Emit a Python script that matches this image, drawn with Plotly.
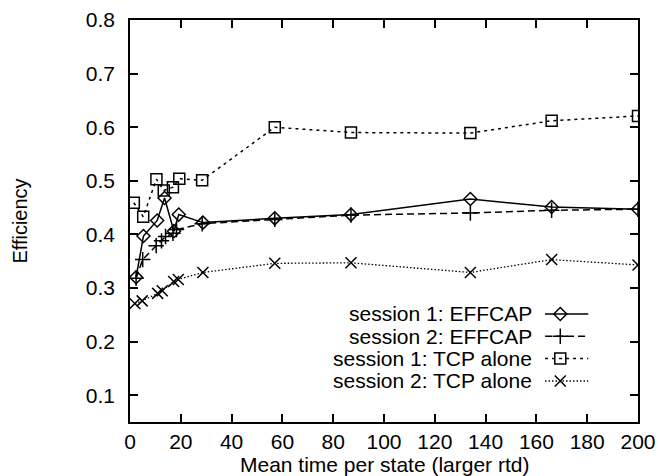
import plotly.graph_objects as go

# ---- data ----
s1_eff_x = [2.4, 5.3, 10.7, 13.6, 17.3, 19.2, 28.7, 57, 87, 134, 166, 200]
s1_eff_y = [0.320, 0.397, 0.426, 0.468, 0.406, 0.437, 0.422, 0.430, 0.437, 0.466, 0.451, 0.447]

s2_eff_x = [2.4, 5.0, 10.3, 12.4, 14.0, 16.9, 18.3, 28.4, 57, 87, 134, 166, 200]
s2_eff_y = [0.318, 0.353, 0.379, 0.388, 0.396, 0.402, 0.409, 0.420, 0.428, 0.436, 0.440, 0.445, 0.447]

s1_tcp_x = [1.5, 5.2, 10.4, 13.3, 16.9, 19.4, 28.4, 57, 87, 134, 166, 200]
s1_tcp_y = [0.459, 0.433, 0.503, 0.482, 0.488, 0.504, 0.501, 0.600, 0.590, 0.589, 0.612, 0.621]

s2_tcp_x = [1.9, 4.8, 10.9, 12.7, 17.2, 19.0, 28.7, 57, 87, 134, 166, 200]
s2_tcp_y = [0.271, 0.276, 0.290, 0.295, 0.312, 0.316, 0.329, 0.346, 0.347, 0.329, 0.353, 0.343]

names = ["session 1: EFFCAP", "session 2: EFFCAP", "session 1: TCP alone", "session 2: TCP alone"]

x_ticks = [0, 20, 40, 60, 80, 100, 120, 140, 160, 180, 200]
y_ticks = [0.1, 0.2, 0.3, 0.4, 0.5, 0.6, 0.7, 0.8]

x_title = "Mean time per state (larger rtd)"
y_title = "Efficiency"

FONT = "Liberation Sans, Arial, Helvetica, sans-serif"

series = [
    (s1_eff_x, s1_eff_y, dict(dash="solid", width=1.5), dict(symbol="diamond-open", size=10)),
    (s2_eff_x, s2_eff_y, dict(dash="7px,4px", width=1.5), dict(symbol="cross-thin", size=11)),
    (s1_tcp_x, s1_tcp_y, dict(dash="3px,4px", width=1.5), dict(symbol="square-open", size=11)),
    (s2_tcp_x, s2_tcp_y, dict(dash="1.5px,2px", width=1.3), dict(symbol="x-thin", size=11)),
]

# legend layout (paper fractions of the plot area), gnuplot style: text right, key sample after
LEG_TEXT_X = 0.795
LEG_KEY_X0, LEG_KEY_X1 = 0.817, 0.902
LEG_MARK_X = 0.847
LEG_ROWS_Y = [0.2687, 0.2132, 0.1577, 0.102]

fig = go.Figure()
for (xs, ys, ln, mk), nm, ry in zip(series, names, LEG_ROWS_Y):
    line = dict(color="black", **ln)
    marker = dict(color="black", line=dict(width=1.5, color="black"), **mk)
    fig.add_trace(go.Scatter(x=xs, y=ys, name=nm, mode="lines+markers",
                             line=line, marker=marker, showlegend=False))
    # legend key sample on an overlay axis
    fig.add_trace(go.Scatter(x=[LEG_KEY_X0, LEG_KEY_X1], y=[ry, ry], mode="lines",
                             line=line, xaxis="x2", yaxis="y2", showlegend=False, hoverinfo="skip"))
    fig.add_trace(go.Scatter(x=[LEG_MARK_X], y=[ry], mode="markers",
                             marker=marker, xaxis="x2", yaxis="y2", showlegend=False, hoverinfo="skip"))
    fig.add_annotation(text=nm, xref="paper", yref="paper", x=LEG_TEXT_X, y=ry,
                       xanchor="right", yanchor="middle", showarrow=False,
                       font=dict(family=FONT, size=21, color="black"))

# x-axis title placed as an annotation
fig.add_annotation(text=x_title, xref="paper", yref="paper", x=0.5, y=-0.1045,
                   xanchor="center", yanchor="middle", showarrow=False,
                   font=dict(family=FONT, size=21, color="black"))

axis_common = dict(
    showgrid=False, zeroline=False, showline=True, linecolor="black", linewidth=1.5,
    mirror="ticks", ticks="inside", ticklen=8, tickwidth=1.5, tickcolor="black",
    tickfont=dict(family=FONT, size=21, color="black"), automargin=False,
)

fig.update_layout(
    template="none",
    width=659, height=476,
    margin=dict(l=130, r=21, t=20, b=54, pad=0),
    paper_bgcolor="white", plot_bgcolor="white",
    font=dict(family=FONT, size=17, color="black"),
    xaxis=dict(range=[0, 200], tickvals=x_ticks, ticklabelstandoff=0, **axis_common),
    yaxis=dict(range=[0.05, 0.8], tickvals=y_ticks, tickformat=".1f", ticklabelstandoff=9,
               title=dict(text=y_title, font=dict(family=FONT, size=20), standoff=53),
               **axis_common),
    xaxis2=dict(range=[0, 1], overlaying="x", visible=False, fixedrange=True),
    yaxis2=dict(range=[0, 1], overlaying="y", visible=False, fixedrange=True),
    showlegend=False,
)

fig.write_html("out.html", config={"displayModeBar": False},
               post_script="document.body.style.margin='0';document.body.style.overflow='hidden';")
